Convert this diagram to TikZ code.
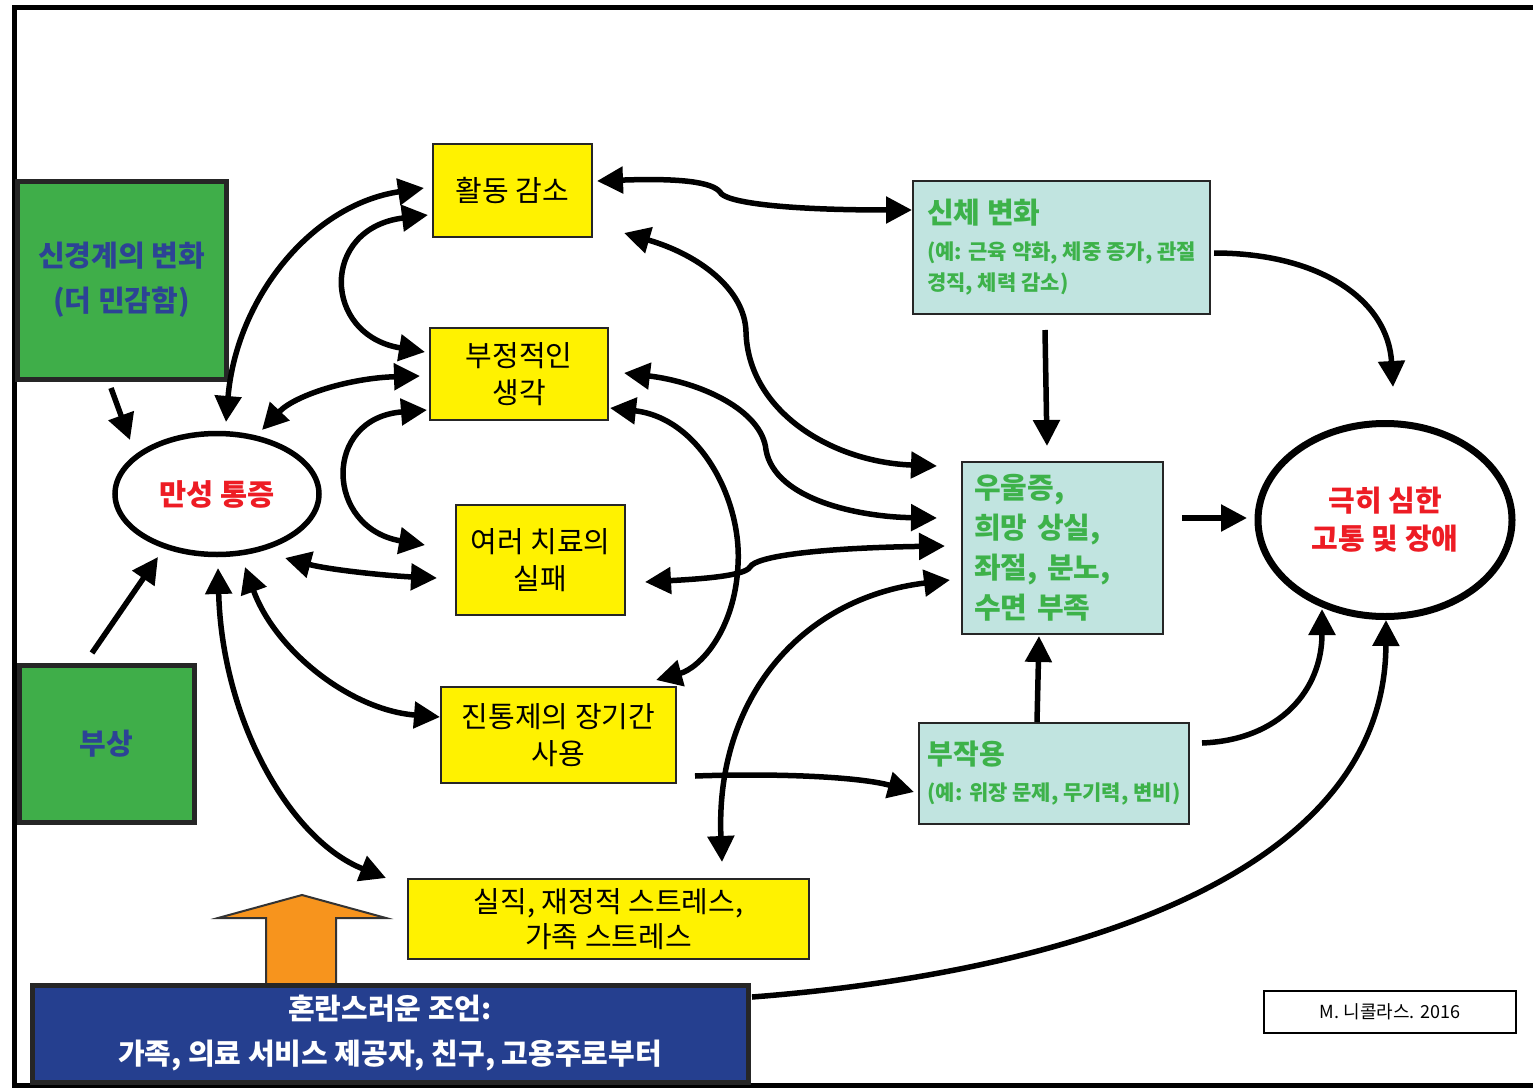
\documentclass[tikz,border=0pt]{standalone}
\usepackage{fontspec}
\setmainfont{Noto Sans CJK KR}
\usetikzlibrary{arrows.meta,shapes.geometric}
\definecolor{yelc}{HTML}{FFF200}
\definecolor{grnfill}{HTML}{3FAE49}
\definecolor{bluetxt}{HTML}{2C4395}
\definecolor{tealc}{HTML}{C1E4E0}
\definecolor{grntxt}{HTML}{3DB24A}
\definecolor{redc}{HTML}{ED1C24}
\definecolor{navyc}{HTML}{253F8F}
\definecolor{orangec}{HTML}{F7941D}
\newcommand\myfs[2]{\fontsize{#1}{#2}\selectfont}
\begin{document}
\begin{tikzpicture}[x=1pt,y=-1pt,
  ybox/.style={draw=black!85, line width=2.5pt, fill=yelc, inner sep=0pt, font=\myfs{29}{37}, align=center},
  gbox/.style={draw=black!85, line width=5pt, fill=grnfill, inner sep=0pt, text=bluetxt, font=\bfseries\myfs{29}{45}, align=center},
  tbox/.style={draw=black!85, line width=2.5pt, fill=tealc, inner sep=0pt, text=grntxt, font=\bfseries\myfs{21}{31}, align=left},
  arr/.style={line width=5.5pt, -{Triangle[length=26pt,width=26pt]}},
  darr/.style={line width=5.5pt, {Triangle[length=26pt,width=26pt]}-{Triangle[length=26pt,width=26pt]}}]
\useasboundingbox (0,0) rectangle (1533,1089);
\fill[white] (0,0) rectangle (1533,1089);
% frame
\draw[line width=5pt] (1533,8) -- (14,8) -- (14,1085) -- (1533,1085);
% orange arrow
\draw[draw=black!80, line width=2pt, fill=orangec] (266,990) -- (266,918) -- (218,918) -- (302,895) -- (386,918) -- (336,918) -- (336,990) -- cycle;
% nodes
\node[gbox, minimum width=209, minimum height=198] (neuro) at (121.5,280) {신경계의 변화\\(더 민감함)};
\node[gbox, minimum width=175, minimum height=157] (injury) at (106.5,743.5) {부상};
\node[ellipse, draw, line width=5.5pt, fill=white, inner sep=0pt, minimum width=204, minimum height=121, text=redc, font=\bfseries\myfs{29.5}{32}] (chronic) at (217,494) {만성 통증};
\node[ybox, minimum width=159, minimum height=93] (act) at (512.5,190.5) {활동 감소};
\node[ybox, minimum width=178, minimum height=92] (neg) at (519,374) {부정적인\\생각};
\node[ybox, minimum width=169, minimum height=110] (fail) at (540.5,560) {여러 치료의\\실패};
\node[ybox, minimum width=235, minimum height=96] (pain) at (558.5,735) {진통제의 장기간\\사용};
\node[ybox, minimum width=401, minimum height=80, font=\myfs{29}{35}] (job) at (608.5,919) {실직, 재정적 스트레스,\\가족 스트레스};
\node[tbox, minimum width=297, minimum height=133] (body) at (1061.5,247.5) {{\myfs{29}{32}신체 변화}\\[5pt](예: 근육 약화, 체중 증가, 관절\\경직, 체력 감소)};
\node[tbox, minimum width=201, minimum height=172, inner xsep=12pt, text width=177, font=\bfseries\myfs{29}{40}] (dep) at (1062.5,548) {우울증,\\희망 상실,\\좌절, 분노,\\수면 부족};
\node[tbox, minimum width=270, minimum height=101] (side) at (1054,773.5) {{\myfs{28}{32}부작용}\\[5pt](예: 위장 문제, 무기력, 변비)};
\node[ellipse, draw, line width=7pt, fill=white, inner sep=0pt, minimum width=254, minimum height=193, text=redc, font=\bfseries\myfs{29}{38}, align=center] (severe) at (1385,520) {극히 심한\\고통 및 장애};
\node[draw=black!85, line width=5pt, fill=navyc, inner sep=0pt, minimum width=716, minimum height=97, text=white, font=\bfseries\myfs{29}{45}, align=center] (advice) at (390,1033.5) {혼란스러운 조언:\\가족, 의료 서비스 제공자, 친구, 고용주로부터};
\node[draw, line width=2.5pt, fill=white, inner sep=0pt, minimum width=252, minimum height=42, font=\myfs{18}{22}] (credit) at (1390,1012) {M. 니콜라스. 2016};
% arrows
\draw[arr] ([shift={(-10.5,108)}]neuro.center) -- ([shift={(-87,-54)}]chronic.center);
\draw[arr] ([shift={(-14.5,-90.5)}]injury.center) -- ([shift={(-59,63)}]chronic.center);
\draw[darr] ([shift={(9,-72)}]chronic.center) .. controls (236,300) and (310,205) .. ([shift={(-88.5,-2.5)}]act.center);
\draw[darr] ([shift={(-84.5,24.5)}]act.center) .. controls (320,228) and (322,335) .. ([shift={(-94,-22)}]neg.center);
\draw[darr] ([shift={(45,-64)}]chronic.center) .. controls (295,395) and (350,378) .. ([shift={(-99,2)}]neg.center);
\draw[darr] ([shift={(-92,36)}]neg.center) .. controls (322,418) and (325,528) .. ([shift={(-115.5,-15)}]fail.center);
\draw[darr] ([shift={(68,64)}]chronic.center) .. controls (330,570) and (390,576) .. ([shift={(-103.5,18)}]fail.center);
\draw[darr] ([shift={(28,73)}]chronic.center) .. controls (275,650) and (350,710) .. ([shift={(-118.5,-18)}]pain.center);
\draw[darr] ([shift={(1,74)}]chronic.center) .. controls (222,720) and (290,840) .. ([shift={(-222.5,-41)}]job.center);
\draw[darr] ([shift={(84.5,-9.5)}]act.center) .. controls (680,178) and (712,182) .. (720,192) .. controls (724,202) and (780,210) .. ([shift={(-149.5,-37.5)}]body.center);
\draw[darr] ([shift={(111.5,42.5)}]act.center) .. controls (700,255) and (745,290) .. (746,332) .. controls (748,410) and (830,462) .. ([shift={(-125.5,-82)}]dep.center);
\draw[darr] ([shift={(105,-1)}]neg.center) .. controls (700,382) and (762,410) .. (766,450) .. controls (775,500) and (860,517) .. ([shift={(-125.5,-30)}]dep.center);
\draw[darr] ([shift={(91,34)}]neg.center) .. controls (700,418) and (742,500) .. (738,565) .. controls (735,630) and (700,668) .. ([shift={(97.5,-55)}]pain.center);
\draw[darr] ([shift={(104.5,22)}]fail.center) .. controls (700,579) and (745,576) .. (750,567) .. controls (756,556) and (820,548) .. ([shift={(-117.5,-2)}]dep.center);
\draw[darr] ([shift={(113.5,-57)}]job.center) .. controls (715,700) and (800,598) .. ([shift={(-112.5,32)}]dep.center);
\draw[arr] ([shift={(136.5,41)}]pain.center) .. controls (780,773) and (860,777) .. ([shift={(-140,18.5)}]side.center);
\draw[arr] ([shift={(-16.5,82.5)}]body.center) -- ([shift={(-15.5,-102)}]dep.center);
\draw[arr] ([shift={(-17,-51.5)}]side.center) -- ([shift={(-23.5,88)}]dep.center);
\draw[arr] ([shift={(119.5,-30)}]dep.center) -- ([shift={(-138,-2)}]severe.center);
\draw[arr] ([shift={(152.5,5.5)}]body.center) .. controls (1320,253) and (1388,300) .. ([shift={(8,-133)}]severe.center);
\draw[arr] ([shift={(148,-30.5)}]side.center) .. controls (1280,740) and (1322,690) .. ([shift={(-63,89)}]severe.center);
\draw[arr] ([shift={(362,-36.5)}]advice.center) .. controls (1000,978) and (1385,900) .. ([shift={(1,100)}]severe.center);
\end{tikzpicture}
\end{document}
